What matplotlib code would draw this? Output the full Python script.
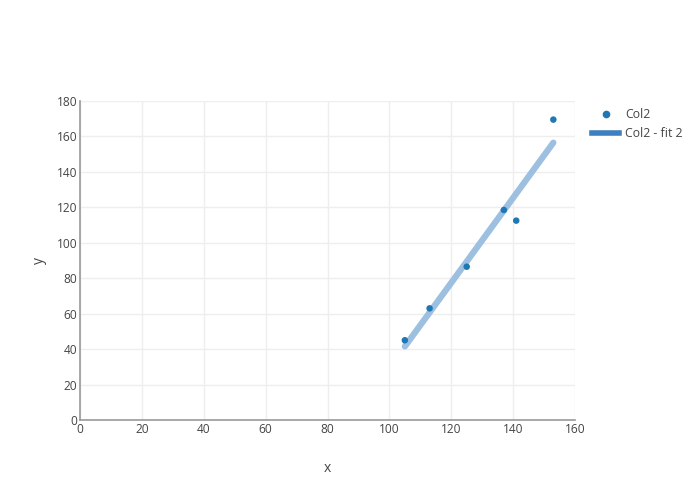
import matplotlib
matplotlib.use('Agg')
import matplotlib.pyplot as plt
from matplotlib.lines import Line2D

# data
col1 = [105, 113, 125, 137, 141, 153]
col2 = [45, 63, 86.5, 118.5, 112.5, 169.5]

# fitted line endpoints
fit_x = [105, 153]
fit_y = [41.5, 156.5]

x_ticks = [0, 20, 40, 60, 80, 100, 120, 140, 160]
y_ticks = [0, 20, 40, 60, 80, 100, 120, 140, 160, 180]

plt.rcParams['font.family'] = ['Open Sans', 'DejaVu Sans']

fig = plt.figure(figsize=(7, 5), dpi=100)
ax = fig.add_axes([80 / 700, 80 / 500, 495 / 700, 319 / 500])

ax.plot(fit_x, fit_y, color='#9dc0e1', linewidth=4.5, solid_capstyle='round', zorder=2)
ax.scatter(col1, col2, s=22, color='#1f77b4', edgecolors='none', zorder=3)

ax.set_xlim(0, 160)
ax.set_ylim(0, 180)
ax.set_xticks(x_ticks)
ax.set_yticks(y_ticks)
ax.grid(True, color='#eeeeee', linewidth=1)
ax.set_axisbelow(True)
ax.tick_params(length=0, labelsize=8.6, colors='#444444', pad=2)
for side in ['top', 'right']:
    ax.spines[side].set_visible(False)
for side in ['left', 'bottom']:
    ax.spines[side].set_color('#999999')
    ax.spines[side].set_linewidth(1.2)
    ax.spines[side].set_zorder(4)

ax.set_xlabel('x', fontsize=10, color='#444444', labelpad=18)
ax.set_ylabel('y', fontsize=10, color='#444444', labelpad=7)

# legend
handles = [
    Line2D([], [], marker='o', linestyle='none', color='#1f77b4', markersize=4.5),
    Line2D([], [], color='#3d7fbf', linewidth=4),
]
leg = ax.legend(handles, ['Col2', 'Col2 - fit 2'], loc='upper left',
                bbox_to_anchor=(1.02, 1.0), frameon=False, fontsize=8.8,
                handlelength=2.2, handletextpad=0.5, borderaxespad=0.2,
                labelspacing=0.45)
for t in leg.get_texts():
    t.set_color('#444444')

fig.savefig('out.png', dpi=100)
